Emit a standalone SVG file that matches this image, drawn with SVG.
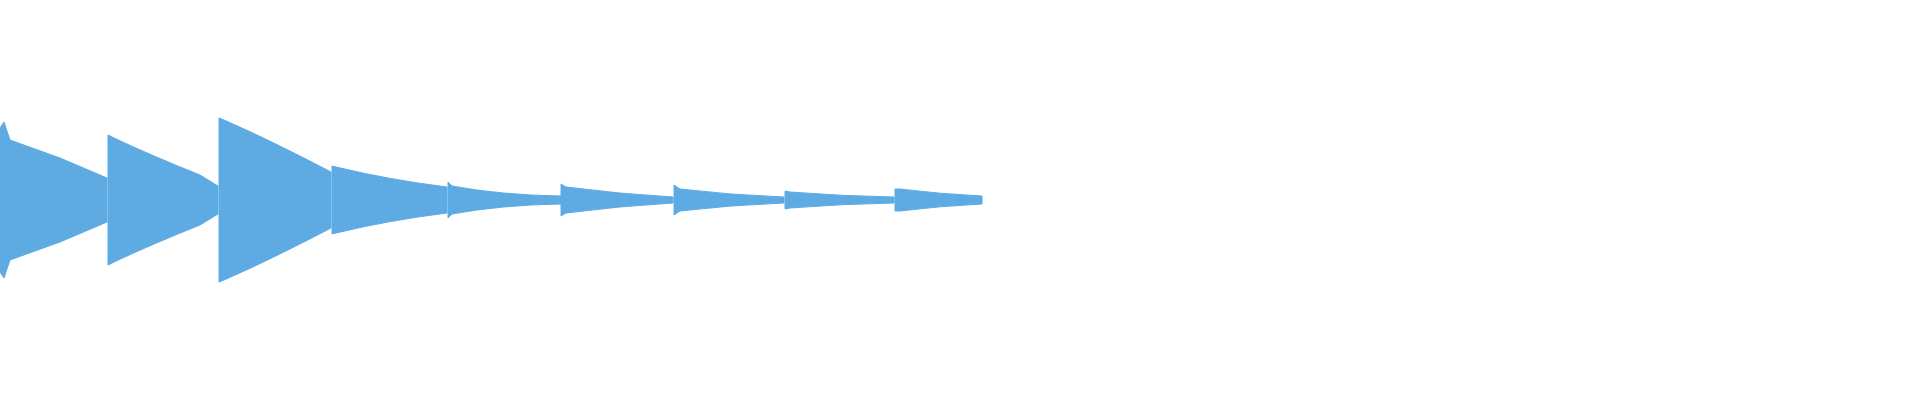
<svg xmlns="http://www.w3.org/2000/svg" width="1920" height="400" viewBox="0 0 1920 400">
<style>.w{fill:#5dabe2;stroke:#5dabe2;stroke-width:1}</style>
<rect width="1920" height="400" fill="#fff"/>
<g id="waveform">
<path class="w" d="M0 200 L0 128 L4 122 L10 140 L60 158 L107 178 L107 222 L60 242 L10 260 L4 278 L0 272 Z"/>
<path class="w" d="M108 200 L108 135 L114 138 Q150 155 200 175 L218 186 L218 214 L200 225 Q150 245 114 262 L108 265 Z"/>
<path class="w" d="M219 200 L219 118 L224 120 Q270 140 331 172 L331 228 Q270 260 224 280 L219 282 Z"/>
<path class="w" d="M332 200 L332 166 L336 167 Q390 180 447 187 L447 213 Q390 220 336 233 L332 234 Z"/>
<path class="w" d="M448 200 L448 182 L452 186 Q500 195 561 196 L561 204 Q500 205 452 214 L448 218 Z"/>
<path class="w" d="M561 200 L561 184 L566 187 Q620 194 673 197 L673 203 Q620 206 566 213 L561 216 Z"/>
<path class="w" d="M674 200 L674 185 L680 189 Q730 195 784 197 L784 203 Q730 205 680 211 L674 215 Z"/>
<path class="w" d="M785 200 L785 191 L790 192 Q840 196 894 197 L894 203 Q840 204 790 208 L785 209 Z"/>
<path class="w" d="M895 200 L895 189 L900 189 Q940 194 982 196 L982 204 Q940 206 900 211 L895 211 Z"/>
</g>
</svg>
